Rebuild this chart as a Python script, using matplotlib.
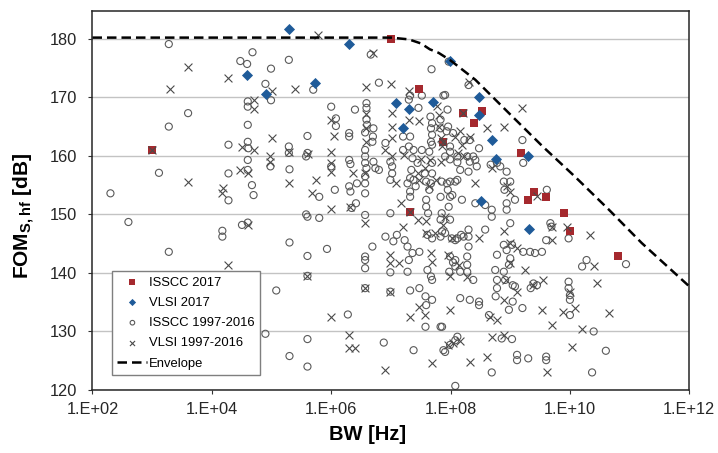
import matplotlib
matplotlib.use("Agg")
import matplotlib.pyplot as plt
from matplotlib.ticker import NullLocator

plt.rcParams['font.family'] = 'Liberation Sans'
plt.rcParams['mathtext.fontset'] = 'custom'
plt.rcParams['mathtext.rm'] = 'Liberation Sans'
plt.rcParams['mathtext.bf'] = 'Liberation Sans:bold'

# ISSCC 2017
isscc17_bw = [1.0e3, 1.0e7, 3.0e7, 1.6e8, 3.4e8, 2.5e8, 7.6e7, 1.5e9, 2.5e9, 2.0e9,
              4.0e9, 7.9e9, 1.0e10, 6.5e10, 2.1e7]
isscc17_fom = [161.0, 180.0, 171.5, 167.3, 167.7, 165.6, 162.4, 160.5, 153.8, 152.4,
               153.0, 150.3, 147.2, 142.9, 150.4]

# VLSI 2017
vlsi17_bw = [2.0e5, 3.9e4, 8.1e4, 5.4e5, 2.0e6, 9.8e7, 3.0e8, 1.2e7, 2.0e7, 5.0e7,
             3.0e8, 1.6e7, 5.0e8, 5.8e8, 2.0e9, 3.2e8, 2.1e9]
vlsi17_fom = [181.7, 173.8, 170.6, 172.5, 179.1, 176.2, 170.1, 169.1, 168.0, 169.2,
              166.9, 164.8, 162.7, 159.5, 159.9, 152.3, 147.5]

# ISSCC 1997-2016
isscc_old_bw = [
    1.9e3, 4.0e3, 1.9e3, 1.9e4, 1.3e3, 1.9e4, 2.0e2, 1.9e4, 4.0e2, 1.5e4,
    1.5e4, 1.9e3, 3.0e4, 3.9e4, 4.8e4, 9.8e4, 7.9e4, 9.8e4, 1.95e5, 5.0e5,
    4.0e4, 4.0e4, 4.0e4, 4.0e4, 4.1e4, 4.0e4, 4.0e4, 4.7e4, 5.0e4, 9.6e4,
    1.95e5, 1.95e5, 2.0e5, 4.0e5, 3.8e5, 4.0e5, 6.3e5, 1.0e6, 1.2e6, 1.2e6,
    1.0e6, 1.15e6, 3.8e5, 4.0e5, 6.3e5, 2.5e6, 2.0e6, 2.0e6, 2.0e6, 2.1e6,
    2.0e6, 2.1e6, 2.7e6, 2.6e6, 2.2e6, 3.2e4, 4.0e4, 2.0e5, 4.0e5, 8.5e5,
    4.0e5, 1.2e5, 7.9e4, 4.0e5, 2.0e5, 4.0e5, 1.9e6, 4.6e6, 6.3e6, 4.8e7,
    2.1e7, 3.3e7, 3.9e6, 3.9e6, 3.9e6, 4.0e6, 3.7e6, 5.1e6, 5.0e6, 4.9e6,
    2.0e7, 2.9e7, 4.6e7, 4.9e7, 4.7e7, 4.9e7, 4.7e7, 4.9e7, 6.8e7, 8.1e6,
    2.1e7, 2.0e7, 2.4e7, 2.3e7, 2.8e7, 3.3e7, 4.4e7, 3.7e6, 3.7e6, 3.7e6,
    3.9e6, 3.7e6, 5.1e6, 5.5e6, 6.3e6, 9.8e6, 1.05e7, 1.05e7, 9.8e6, 3.7e6,
    3.7e6, 2.1e7, 2.1e7, 1.9e7, 4.9e7, 4.9e7, 4.7e7, 4.4e7, 7.6e7, 8.9e7,
    6.8e7, 9.1e7, 8.6e7, 1.1e8, 1.6e7, 1.7e8, 2.1e8, 3.0e8, 1.6e7, 9.8e7,
    9.8e7, 8.1e7, 1.3e8, 1.9e8, 2.4e8, 2.6e8, 9.8e7, 1.3e8, 1.45e8, 2.0e8,
    2.75e8, 8.7e8, 7.8e8, 1.0e9, 1.2e9, 4.1e9, 2.2e7, 2.4e7, 2.6e7, 3.7e7,
    3.9e7, 7.1e7, 9.8e7, 1.2e8, 6.8e7, 9.8e7, 1.55e8, 2.1e7, 9.8e6, 3.9e7,
    3.9e7, 4.2e7, 6.8e7, 7.1e7, 9.8e7, 2.0e8, 3.8e8, 4.9e8, 8.7e8, 8.7e8,
    4.7e9, 1.65e9, 1.6e9, 1.3e8, 8.7e7, 9.0e7, 1.07e8, 8.0e8, 2.1e8, 4.7e8,
    6.0e8, 6.8e8, 9.3e7, 8.1e7, 2.0e8, 3.7e6, 8.1e6, 1.1e7, 4.9e6, 1.7e7,
    1.9e7, 2.3e7, 3.0e7, 3.7e6, 3.7e6, 3.7e6, 2.0e7, 1.9e7, 9.8e6, 4.1e7,
    4.9e7, 4.1e7, 4.7e7, 4.9e7, 3.7e6, 9.8e6, 2.1e7, 3.0e7, 3.8e7, 4.9e7,
    3.8e7, 6.8e7, 7.6e6, 2.4e7, 1.26e7, 6.8e7, 8.1e7, 1.05e8, 1.3e8, 1.65e8,
    1.0e9, 6.0e8, 8.7e8, 1.07e9, 1.65e9, 2.15e9, 2.6e9, 3.4e9, 9.8e7, 1.1e8,
    1.9e8, 1.9e8, 1.45e8, 1.9e8, 2.4e8, 5.6e8, 6.0e8, 7.8e8, 8.2e8, 9.5e9,
    1.6e10, 1.9e10, 9.5e9, 9.5e9, 1.0e10, 1.0e10, 1.0e10, 3.9e7, 1.45e8, 2.1e8,
    3.0e8, 3.0e8, 6.0e8, 1.2e9, 1.6e9, 2.45e9, 2.8e9, 4.4e8, 2.5e10, 1.3e8,
    1.2e8, 7.6e7, 9.8e7, 1.07e9, 4.9e8, 1.3e9, 1.3e9, 2.0e9, 4.0e9, 4.0e9,
    4.0e10, 2.35e10, 1.2e8, 8.7e10, 9.3e7, 2.6e8, 3.8e8, 4.9e8, 7.2e7, 1.2e8,
    1.5e8, 2.0e8, 2.0e8, 1.2e8, 1.2e8, 7.8e8, 1.0e9, 9.5e8, 9.5e7, 1.1e9,
    2.2e9, 5.7e8, 9.5e8, 1.1e9, 7.2e7, 7.2e8, 8.1e7, 4.0e9, 4.9e9,
]
isscc_old_fom = [
    179.1, 167.3, 165.0, 161.9, 157.1, 157.0, 153.6, 152.4, 148.7, 147.2,
    146.2, 143.6, 176.2, 175.7, 177.7, 174.9, 172.3, 169.5, 176.4, 171.3,
    169.3, 168.4, 165.3, 162.4, 161.3, 159.3, 157.6, 155.0, 153.3, 158.2,
    161.6, 160.5, 157.7, 163.4, 159.9, 160.5, 153.0, 168.4, 166.4, 165.1,
    158.2, 154.2, 150.0, 149.6, 149.4, 167.9, 163.9, 163.3, 159.3, 158.6,
    154.8, 153.9, 155.3, 151.9, 151.1, 148.2, 148.6, 145.2, 142.9, 144.1,
    139.5, 137.0, 129.6, 128.7, 125.8, 124.0, 132.9, 177.3, 172.5, 174.8,
    170.3, 170.3, 169.0, 168.2, 166.2, 165.3, 164.0, 164.7, 163.3, 162.4,
    169.6, 168.2, 166.7, 165.6, 164.7, 163.6, 162.4, 161.9, 166.2, 162.2,
    163.3, 161.6, 161.0, 159.6, 158.8, 161.0, 160.7, 161.0, 159.9, 158.8,
    157.9, 156.5, 159.0, 157.9, 157.6, 159.0, 158.2, 157.0, 155.9, 155.3,
    153.6, 156.2, 153.9, 155.3, 158.8, 157.0, 155.3, 154.2, 170.3, 167.9,
    164.7, 165.0, 164.2, 163.9, 163.3, 162.7, 162.7, 161.3, 161.0, 161.6,
    160.7, 159.9, 159.9, 159.9, 159.9, 159.3, 159.4, 158.9, 157.6, 157.3,
    158.2, 157.3, 155.6, 155.6, 152.5, 154.2, 157.6, 155.9, 154.8, 157.0,
    155.6, 155.6, 155.6, 155.6, 153.0, 153.0, 152.5, 153.0, 150.2, 152.5,
    151.3, 150.2, 149.1, 150.2, 149.1, 147.4, 147.4, 150.8, 151.9, 150.8,
    148.5, 158.8, 162.7, 155.9, 155.3, 154.2, 153.3, 154.2, 159.0, 158.5,
    158.8, 158.2, 176.1, 170.4, 172.1, 149.9, 146.2, 145.4, 144.5, 145.6,
    144.5, 143.4, 143.6, 142.8, 142.2, 140.8, 142.2, 140.2, 140.1, 146.5,
    145.9, 140.5, 139.4, 138.8, 137.4, 136.8, 137.0, 137.4, 136.0, 135.4,
    130.8, 130.8, 128.1, 126.8, 146.5, 146.2, 146.8, 145.9, 145.9, 146.2,
    148.5, 143.1, 143.9, 144.8, 143.6, 143.6, 143.4, 143.6, 142.8, 141.8,
    142.8, 141.4, 140.2, 140.2, 138.8, 140.5, 138.8, 140.2, 138.8, 145.9,
    141.1, 142.2, 138.5, 137.4, 136.2, 135.4, 132.8, 134.5, 135.7, 135.4,
    135.1, 134.5, 137.4, 137.7, 134.0, 138.2, 137.9, 132.8, 130.0, 129.1,
    128.5, 126.8, 127.7, 128.7, 123.0, 126.0, 125.1, 125.4, 125.7, 125.1,
    126.7, 123.0, 120.7, 141.5, 151.3, 151.9, 151.6, 149.6, 147.1, 145.6,
    146.5, 146.2, 144.5, 142.2, 141.1, 144.8, 142.5, 141.4, 140.2, 137.9,
    137.4, 136.0, 133.7, 135.1, 130.8, 128.8, 126.5, 145.6, 147.9,
]

# VLSI 1997-2016
vlsi_old_bw = [
    4.0e3, 1.9e4, 2.0e3, 4.0e3, 1.55e4, 1.5e4, 1.9e4, 1.0e5, 2.5e5, 6.0e5,
    5.0e4, 5.0e4, 1.0e5, 3.2e4, 5.0e4, 3.0e4, 4.0e4, 9.6e4, 9.6e4, 2.0e5,
    2.0e5, 4.1e5, 5.5e5, 4.8e5, 1.0e6, 1.1e6, 1.0e6, 1.0e6, 1.0e6, 1.0e6,
    2.3e6, 2.1e6, 4.1e4, 4.0e5, 1.0e6, 2.0e6, 2.0e6, 2.5e6, 5.1e6, 3.8e6,
    1.0e7, 2.0e7, 3.9e6, 3.9e6, 3.9e6, 1.05e7, 1.05e7, 2.0e7, 3.0e7, 6.5e7,
    6.5e7, 6.8e7, 1.05e7, 8.1e6, 1.65e7, 3.2e7, 3.8e7, 3.7e6, 1.05e7, 1.2e7,
    2.8e7, 3.0e7, 5.6e7, 4.4e7, 5.9e7, 2.0e8, 1.6e9, 4.1e8, 7.9e8, 1.45e8,
    1.2e8, 2.1e8, 1.55e8, 7.1e7, 4.6e7, 6.8e7, 1.65e8, 1.35e8, 4.9e8, 2.6e8,
    1.0e9, 8.7e8, 2.8e9, 1.5e7, 1.6e7, 2.9e7, 3.9e7, 5.0e9, 8.9e9, 3.7e6,
    9.8e6, 9.8e6, 1.35e7, 4.7e7, 4.9e7, 3.0e7, 2.1e7, 3.8e7, 8.1e6, 4.8e7,
    3.9e7, 5.5e7, 3.0e8, 7.8e8, 1.3e9, 1.0e9, 9.8e7, 1.9e8, 1.8e9, 2.2e10,
    2.5e10, 2.8e10, 1.0e10, 1.2e10, 9.8e7, 7.8e8, 1.3e9, 2.45e9, 3.4e9, 4.6e8,
    6.0e8, 5.0e9, 7.8e9, 1.6e10, 4.5e10, 1.1e8, 1.45e8, 4.9e8, 7.8e8, 2.1e8,
    4.1e8, 4.1e9, 1.07e10, 8.1e7, 7.6e7, 1.05e8, 9.0e7, 1.4e8, 1.0e9, 8.4e8,
    3.5e9, 9.0e7, 5.0e9, 3.7e6, 9.8e6, 7.6e7, 1.0e3, 1.6e8, 2.1e7,
]
vlsi_old_fom = [
    175.2, 173.3, 171.4, 155.6, 154.5, 153.7, 141.4, 171.0, 171.5, 180.6,
    169.6, 168.0, 163.0, 161.5, 161.0, 157.6, 157.0, 159.9, 159.0, 160.7,
    155.3, 160.3, 155.9, 153.7, 166.2, 163.4, 160.7, 158.8, 157.3, 150.9,
    157.0, 151.3, 148.2, 139.5, 132.4, 129.4, 127.1, 127.2, 177.6, 171.7,
    172.3, 171.1, 167.2, 164.7, 162.4, 167.3, 165.0, 166.2, 165.9, 167.0,
    165.0, 163.0, 163.0, 161.0, 160.1, 159.4, 157.9, 157.0, 159.9, 155.3,
    157.0, 155.9, 155.9, 154.8, 168.5, 172.7, 168.2, 164.7, 165.0, 164.2,
    163.3, 163.3, 161.9, 161.6, 159.3, 159.0, 159.9, 160.5, 157.9, 155.3,
    153.9, 154.8, 153.2, 151.9, 147.9, 149.1, 148.8, 147.9, 147.9, 148.5,
    143.1, 141.7, 141.7, 143.4, 141.9, 134.2, 132.4, 132.8, 123.5, 124.6,
    146.8, 146.8, 145.9, 147.1, 144.2, 141.7, 139.4, 139.3, 140.5, 146.5,
    141.1, 138.2, 136.8, 134.0, 133.7, 135.4, 136.8, 137.9, 133.7, 132.5,
    132.0, 131.1, 133.4, 130.5, 133.1, 128.0, 128.3, 129.1, 129.4, 124.8,
    125.7, 123.0, 127.4, 149.6, 148.2, 145.9, 143.1, 141.4, 145.1, 138.8,
    138.8, 127.7, 145.6, 137.4, 136.8, 162.4, 161.0, 167.3, 150.4,
]

# Envelope
env_bw = [1.0e2, 1.0e7, 2.0e7, 3.2e7, 4.5e7, 6.3e7, 1.0e8, 2.6e8, 9.5e8, 3.5e9,
          1.2e10, 4.5e10, 1.6e11, 1.0e12]
env_fom = [180.2, 180.2, 179.9, 179.2, 178.2, 177.6, 176.3, 173.0, 167.3, 161.6,
           156.5, 150.8, 145.1, 137.7]

xticks = [1e2, 1e4, 1e6, 1e8, 1e10, 1e12]
xtick_labels = ['1.E+02', '1.E+04', '1.E+06', '1.E+08', '1.E+10', '1.E+12']
yticks = [120, 130, 140, 150, 160, 170, 180]

fig = plt.figure(figsize=(7.18, 4.53), dpi=100)
ax = fig.add_axes([0.1288, 0.1391, 0.8312, 0.8373])

h_circ = ax.scatter(isscc_old_bw, isscc_old_fom, s=26, facecolors='none',
                    edgecolors='#5a5a5a', linewidths=0.8, zorder=2)
h_red = ax.scatter(isscc17_bw, isscc17_fom, s=38, marker='s', color='#a5292e',
                   linewidths=0, zorder=2.5)
h_x = ax.scatter(vlsi_old_bw, vlsi_old_fom, s=32, marker='x', color='#4a4a4a',
                 linewidths=0.8, zorder=3)
h_blue = ax.scatter(vlsi17_bw, vlsi17_fom, s=32, marker='D', color='#1f5b99',
                    linewidths=0, zorder=3.5)
h_env, = ax.plot(env_bw, env_fom, color='black', lw=1.8, ls=(0, (3.8, 2)), zorder=4)

ax.set_xscale('log')
ax.set_xlim(1e2, 1e12)
ax.set_ylim(120, 184.8)
ax.set_xticks(xticks)
ax.set_xticklabels(xtick_labels)
ax.xaxis.set_minor_locator(NullLocator())
ax.set_yticks(yticks)
ax.tick_params(axis='both', direction='out', length=3, width=0.8, color='#333333',
               labelsize=11.8, labelcolor='#262626')
ax.tick_params(axis='y', pad=8)
ax.tick_params(axis='x', pad=6)

ax.yaxis.grid(True, color='#c3c3c3', lw=1.0)
ax.set_axisbelow(True)
for sp in ax.spines.values():
    sp.set_color('#262626')
    sp.set_linewidth(1.1)

ax.set_xlabel('BW [Hz]', fontsize=14.5, fontweight='bold')
ax.xaxis.set_label_coords(0.4616, -0.093)
ax.set_ylabel(r'FOM$_\mathbf{S,hf}$ [dB]', fontsize=15, fontweight='bold')
ax.yaxis.set_label_coords(-0.093, 0.46)

leg = ax.legend([h_red, h_blue, h_circ, h_x, h_env],
                ['ISSCC 2017', 'VLSI 2017', 'ISSCC 1997-2016', 'VLSI 1997-2016', 'Envelope'],
                loc='lower left', bbox_to_anchor=(0.033, 0.04), borderaxespad=0,
                fontsize=9.4, frameon=True, fancybox=False, edgecolor='#7f7f7f',
                framealpha=1, borderpad=0.4, labelspacing=0.62, handlelength=2.3,
                handletextpad=0.1, markerscale=0.65, scatterpoints=1)
leg.get_frame().set_linewidth(1.0)
leg.set_zorder(5)

fig.savefig('out.png', dpi=100)
